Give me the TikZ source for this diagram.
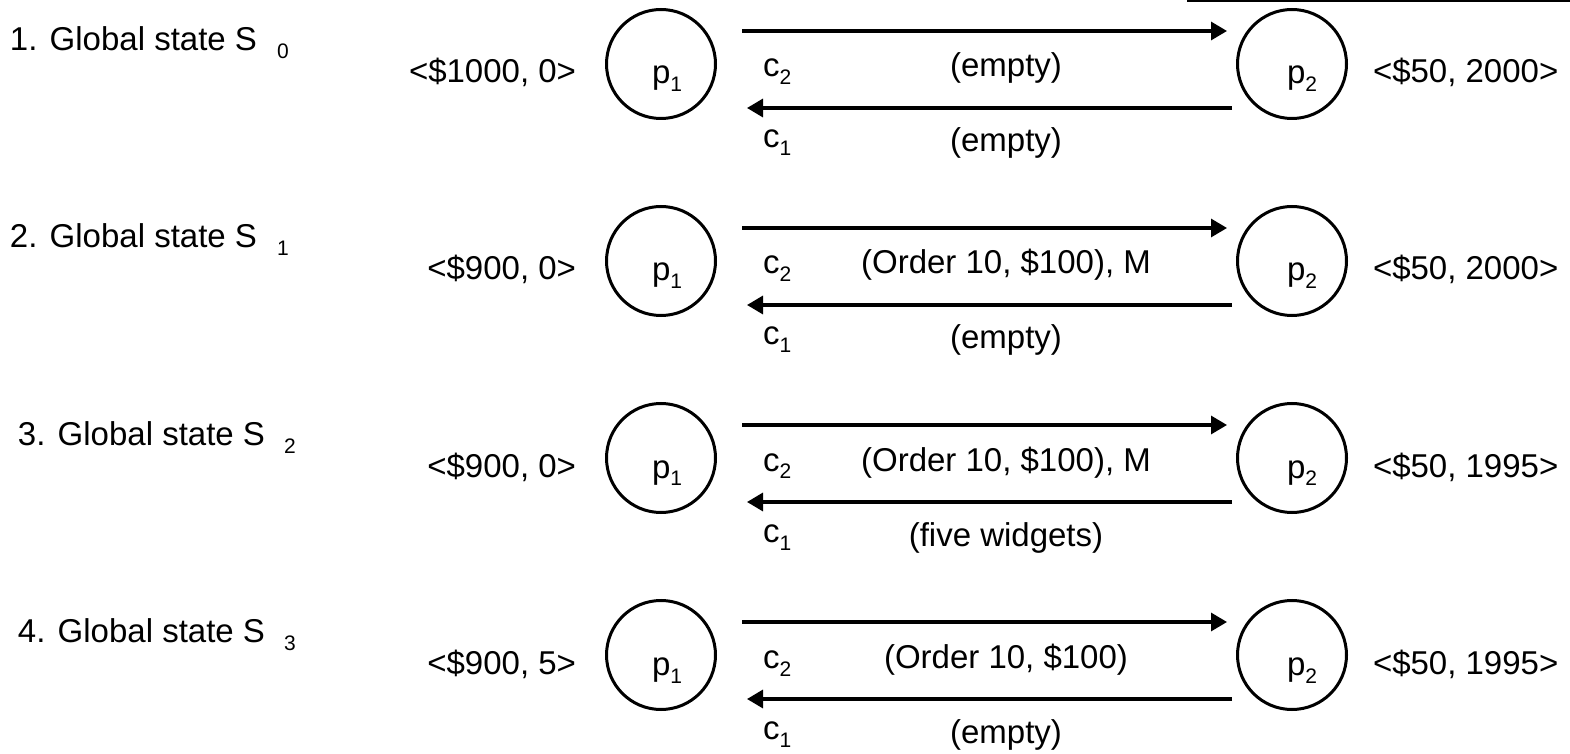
\documentclass[tikz,border=0pt]{standalone}
\usepackage{fontspec}
\setmainfont{Liberation Sans}
\usetikzlibrary{arrows.meta}
\newcommand{\mysub}[1]{\raisebox{-4pt}{\fontsize{10.5}{12}\selectfont #1}}
\tikzset{
  txt/.style={inner sep=0pt, outer sep=0pt, font=\fontsize{16.5}{20}\selectfont},
  subtxt/.style={inner sep=0pt, outer sep=0pt, font=\fontsize{10.5}{12}\selectfont},
  proc/.style={circle, draw, line width=1.5pt, minimum size=54.5pt, inner sep=0pt},
  chan/.style={line width=1.65pt, -{Triangle[length=8pt,width=9pt]}},
  topline/.style={line width=0.75pt}
}
% #1 index, #2 row centre, #3 label x, #4 sub x, #5 sub text, #6 left value, #7 right value, #8 upper channel text, #9 lower channel text
\newcommand{\staterow}[9]{%
  \node[txt, anchor=base west] (g#1) at (#3, #2-13) {#1. Global state S};
  \node[subtxt, anchor=base west] (gs#1) at (#4, #2-5) {#5};
  \node[txt, anchor=base east] (lv#1) at (576, #2+19) {#6};
  \node[proc] (pa#1) at (661, #2) {};
  \node[txt, anchor=base west] (pat#1) at (652, #2+20) {p\mysub{1}};
  \node[proc] (pb#1) at (1292, #2) {};
  \node[txt, anchor=base west] (pbt#1) at (1287, #2+20) {p\mysub{2}};
  \node[txt, anchor=base west] (rv#1) at (1373, #2+19) {#7};
  \node[txt, anchor=base west] (ctwo#1) at (763, #2+13) {c\mysub{2}};
  \node[txt, anchor=base west] (cone#1) at (763, #2+84) {c\mysub{1}};
  \node[txt, anchor=base] (ut#1) at (1006, #2+13) {#8};
  \node[txt, anchor=base] (lt#1) at (1006, #2+88) {#9};
  \coordinate (us#1) at (742, #2-33);
  \coordinate (ue#1) at (1227, #2-33);
  \coordinate (ls#1) at (1232, #2+44);
  \coordinate (le#1) at (747, #2+44);
  \draw[chan] (us#1) -- (ue#1);
  \draw[chan] (ls#1) -- (le#1);
}
\begin{document}
\begin{tikzpicture}[x=0.5pt, y=-0.5pt]
\useasboundingbox (0,0) rectangle (1570,754);
\coordinate (tl1) at (1187, 0.8);
\coordinate (tl2) at (1570, 0.8);
\draw[topline] (tl1) -- (tl2);
\staterow{1}{64}{10}{277}{0}{<\$1000, 0>}{<\$50, 2000>}{(empty)}{(empty)}
\staterow{2}{261}{10}{277}{1}{<\$900, 0>}{<\$50, 2000>}{(Order 10, \$100), M}{(empty)}
\staterow{3}{458}{18}{284}{2}{<\$900, 0>}{<\$50, 1995>}{(Order 10, \$100), M}{(five widgets)}
\staterow{4}{655}{18}{284}{3}{<\$900, 5>}{<\$50, 1995>}{(Order 10, \$100)}{(empty)}
\end{tikzpicture}
\end{document}
